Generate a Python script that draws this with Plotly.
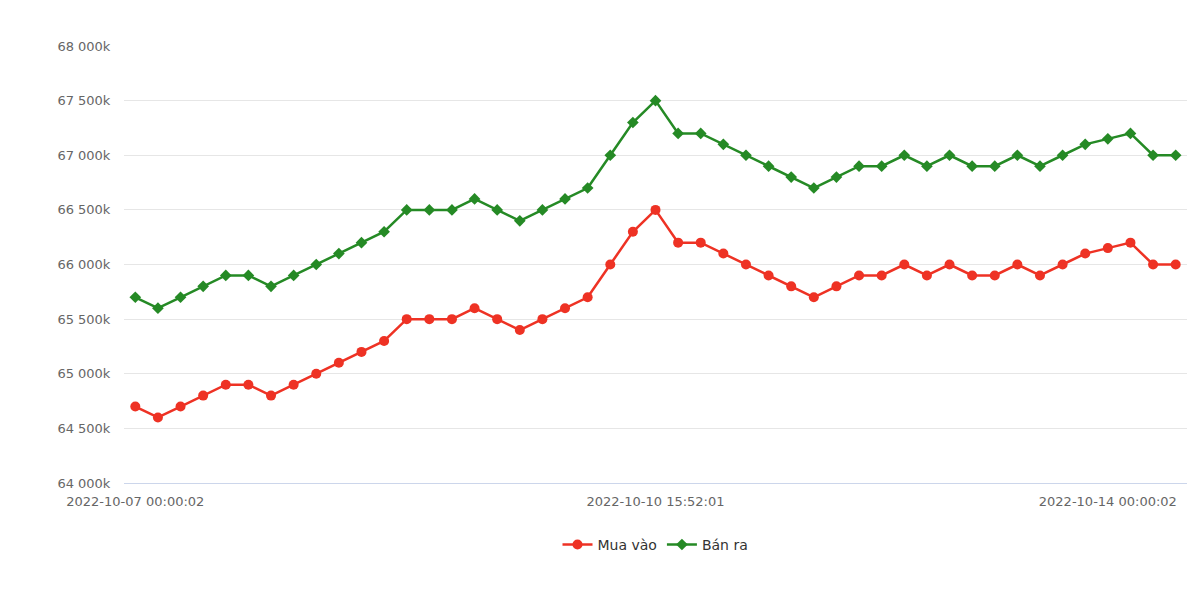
import plotly.graph_objects as go

idx = list(range(47))
mua_vao = [64700, 64600, 64700, 64800, 64900, 64900, 64800, 64900, 65000, 65100,
           65200, 65300, 65500, 65500, 65500, 65600, 65500, 65400, 65500, 65600,
           65700, 66000, 66300, 66500, 66200, 66200, 66100, 66000, 65900, 65800,
           65700, 65800, 65900, 65900, 66000, 65900, 66000, 65900, 65900, 66000,
           65900, 66000, 66100, 66150, 66200, 66000, 66000]
ban_ra = [65700, 65600, 65700, 65800, 65900, 65900, 65800, 65900, 66000, 66100,
          66200, 66300, 66500, 66500, 66500, 66600, 66500, 66400, 66500, 66600,
          66700, 67000, 67300, 67500, 67200, 67200, 67100, 67000, 66900, 66800,
          66700, 66800, 66900, 66900, 67000, 66900, 67000, 66900, 66900, 67000,
          66900, 67000, 67100, 67150, 67200, 67000, 67000]
x_tick_pos = [0, 23, 43]
x_tick_text = ["2022-10-07 00:00:02", "2022-10-10 15:52:01", "2022-10-14 00:00:02"]
y_ticks = [64000, 64500, 65000, 65500, 66000, 66500, 67000, 67500, 68000]
y_tick_text = ["64 000k", "64 500k", "65 000k", "65 500k", "66 000k", "66 500k", "67 000k", "67 500k", "68 000k"]

fig = go.Figure()
fig.add_trace(go.Scatter(x=idx, y=mua_vao, name="Mua vào", mode="lines+markers",
                         line=dict(color="#ee3224", width=2.5),
                         marker=dict(symbol="circle", size=10, color="#ee3224")))
fig.add_trace(go.Scatter(x=idx, y=ban_ra, name="Bán ra", mode="lines+markers",
                         line=dict(color="#258a25", width=2.5),
                         marker=dict(symbol="diamond", size=9, color="#258a25")))
fig.update_layout(
    width=1200, height=594, plot_bgcolor="white", paper_bgcolor="white",
    margin=dict(l=116, r=21, t=38, b=119),
    font=dict(family="DejaVu Sans", size=13, color="#666666"),
    showlegend=True,
    legend=dict(orientation="h", x=0.5, xanchor="center", y=-0.105, yanchor="top",
                font=dict(size=14, color="#333333")),
    xaxis=dict(range=[-0.5, 46.5], tickvals=x_tick_pos, ticktext=x_tick_text,
               showgrid=False, zeroline=False, showline=True, linecolor="#ccd6eb",
               ticks="outside", ticklen=6, tickcolor="rgba(0,0,0,0)",
               tickfont=dict(size=13), automargin=False),
    yaxis=dict(range=[64000, 68000], tickvals=y_ticks, ticktext=y_tick_text,
               gridcolor="#e6e6e6", zeroline=False, ticks="outside", ticklen=10,
               tickcolor="rgba(0,0,0,0)", tickfont=dict(size=13), automargin=False),
)
fig.write_html("out.html")
